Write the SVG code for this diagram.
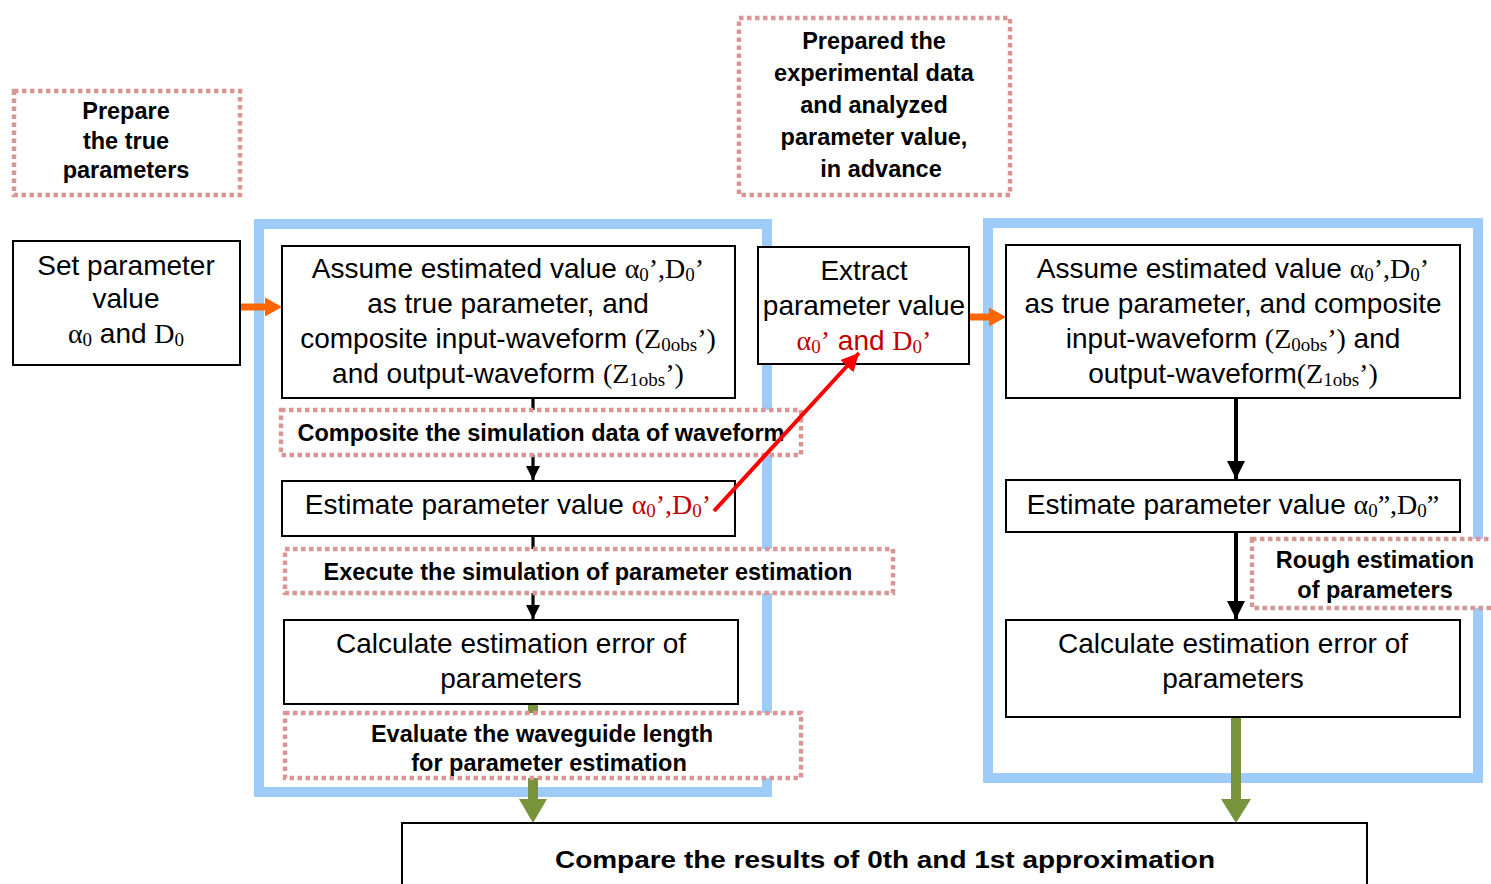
<svg xmlns="http://www.w3.org/2000/svg" width="1491" height="884" viewBox="0 0 1491 884">
  <style>
    .frame { fill: none; stroke: #9DCBFA; stroke-width: 10; }
    .box { fill: #FFFFFF; stroke: #000000; stroke-width: 2; }
    .note { fill: #FFFFFF; stroke: #D99694; stroke-width: 4.5; stroke-dasharray: 4.5 3.5; }
    .t { font-family: "Liberation Sans", Arial, sans-serif; font-size: 28px; fill: #000000; text-anchor: middle; }
    .b { font-family: "Liberation Sans", Arial, sans-serif; font-weight: bold; font-size: 23.5px; fill: #000000; text-anchor: middle; }
    .m { font-family: "Liberation Serif", "Times New Roman", serif; }
    .red { fill: #C00000; }
    .blk { stroke: #000000; fill: none; }
    .grn { stroke: #77933C; fill: none; stroke-width: 10; }
    .org { stroke: #FF6600; fill: none; stroke-width: 7; }
  </style>
  <defs>
    <marker id="headBlack" viewBox="0 0 10 10" refX="10" refY="5" markerWidth="4.5" markerHeight="4.5" markerUnits="strokeWidth" orient="auto">
      <path d="M0,0 L10,5 L0,10 z" fill="#000000"/>
    </marker>
    <marker id="headRed" viewBox="0 0 10 10" refX="10" refY="5" markerWidth="4.5" markerHeight="4.5" markerUnits="strokeWidth" orient="auto">
      <path d="M0,0 L10,5 L0,10 z" fill="#FF0000"/>
    </marker>
  </defs>

  <!-- simulation frame (0th approximation) and experiment frame (1st approximation) -->
  <g id="frames">
    <rect class="frame" x="259" y="224" width="508" height="568"/>
    <rect class="frame" x="988" y="223" width="490" height="555"/>
  </g>

  <g id="connectors">
    <!-- left column flow -->
    <line class="blk" x1="533" y1="398" x2="533" y2="480" stroke-width="3.2" marker-end="url(#headBlack)"/>
    <line class="blk" x1="533" y1="536" x2="533" y2="619" stroke-width="3.2" marker-end="url(#headBlack)"/>
    <!-- right column flow -->
    <line class="blk" x1="1236" y1="398" x2="1236" y2="479" stroke-width="4" marker-end="url(#headBlack)"/>
    <line class="blk" x1="1236" y1="532" x2="1236" y2="619" stroke-width="4" marker-end="url(#headBlack)"/>
    <!-- results to comparison -->
    <line class="grn" x1="533" y1="704" x2="533" y2="800"/>
    <path d="M519,799 L547,799 L533,823 z" fill="#77933C"/>
    <line class="grn" x1="1236" y1="717" x2="1236" y2="800"/>
    <path d="M1221,799 L1251,799 L1236,823 z" fill="#77933C"/>
    <!-- inputs into frames -->
    <line class="org" x1="240" y1="307" x2="266" y2="307"/>
    <path d="M265,297.5 L282,307 L265,316.5 z" fill="#FF6600"/>
    <line class="org" x1="969" y1="317" x2="990" y2="317"/>
    <path d="M989,307.5 L1006,317 L989,326.5 z" fill="#FF6600"/>
  </g>

  <g id="prepare-true">
    <rect class="note" x="14" y="91" width="226" height="104"/>
    <text class="b" font-size="24" x="126" y="119">Prepare</text>
    <text class="b" font-size="24" x="126" y="149">the true</text>
    <text class="b" font-size="24" x="126" y="178">parameters</text>
  </g>

  <g id="set-parameter">
    <rect class="box" x="13" y="241" width="227" height="124"/>
    <text class="t" x="126" y="275">Set parameter</text>
    <text class="t" x="126" y="308">value</text>
    <text class="t" x="126" y="343"><tspan class="m">α<tspan font-size="19" dy="3">0</tspan></tspan><tspan dy="-3"> and </tspan><tspan class="m">D<tspan font-size="19" dy="3">0</tspan></tspan></text>
  </g>

  <g id="assume-sim">
    <rect class="box" x="282" y="246" width="453" height="152"/>
    <text class="t" x="508" y="278">Assume estimated value <tspan class="m">α<tspan font-size="19" dy="3">0</tspan><tspan dy="-3">’,D</tspan><tspan font-size="19" dy="3">0</tspan><tspan dy="-3">’</tspan></tspan></text>
    <text class="t" x="508" y="313">as true parameter, and</text>
    <text class="t" x="508" y="348">composite input-waveform <tspan class="m">(Z<tspan font-size="19" dy="3">0obs</tspan><tspan dy="-3">’)</tspan></tspan></text>
    <text class="t" x="508" y="383">and output-waveform <tspan class="m">(Z<tspan font-size="19" dy="3">1obs</tspan><tspan dy="-3">’)</tspan></tspan></text>
  </g>

  <g id="composite-note">
    <rect class="note" x="281" y="410" width="520" height="45"/>
    <text class="b" x="541" y="441">Composite the simulation data of waveform</text>
  </g>

  <g id="estimate-sim">
    <rect class="box" x="282" y="481" width="453" height="55"/>
    <text class="t" x="508" y="514">Estimate parameter value <tspan class="m red">α<tspan font-size="19" dy="3">0</tspan><tspan dy="-3">’,D</tspan><tspan font-size="19" dy="3">0</tspan><tspan dy="-3">’</tspan></tspan></text>
  </g>

  <g id="execute-note">
    <rect class="note" x="285" y="549" width="608" height="44"/>
    <text class="b" x="588" y="580">Execute the simulation of parameter estimation</text>
  </g>

  <g id="error-sim">
    <rect class="box" x="284" y="620" width="454" height="84"/>
    <text class="t" x="511" y="653">Calculate estimation error of</text>
    <text class="t" x="511" y="688">parameters</text>
  </g>

  <g id="evaluate-note">
    <rect class="note" x="285" y="713" width="516" height="65"/>
    <text class="b" x="542" y="742">Evaluate the waveguide length</text>
    <text class="b" x="549" y="771">for parameter estimation</text>
  </g>

  <g id="prepared-experiment">
    <rect class="note" x="739" y="18" width="271" height="177"/>
    <text class="b" font-size="24" x="874" y="49">Prepared the</text>
    <text class="b" font-size="24" x="874" y="81">experimental data</text>
    <text class="b" font-size="24" x="874" y="113">and analyzed</text>
    <text class="b" font-size="24" x="874" y="145">parameter value,</text>
    <text class="b" font-size="24" x="881" y="177">in advance</text>
  </g>

  <g id="extract">
    <rect class="box" x="758" y="247" width="211" height="117"/>
    <text class="t" x="864" y="280">Extract</text>
    <text class="t" x="864" y="315">parameter value</text>
    <text class="t red" x="864" y="350"><tspan class="m">α<tspan font-size="19" dy="3">0</tspan><tspan dy="-3">’</tspan></tspan> and <tspan class="m">D<tspan font-size="19" dy="3">0</tspan><tspan dy="-3">’</tspan></tspan></text>
  </g>

  <g id="assume-exp">
    <rect class="box" x="1006" y="245" width="454" height="153"/>
    <text class="t" x="1233" y="278">Assume estimated value <tspan class="m">α<tspan font-size="19" dy="3">0</tspan><tspan dy="-3">’,D</tspan><tspan font-size="19" dy="3">0</tspan><tspan dy="-3">’</tspan></tspan></text>
    <text class="t" x="1233" y="313">as true parameter, and composite</text>
    <text class="t" x="1233" y="348">input-waveform <tspan class="m">(Z<tspan font-size="19" dy="3">0obs</tspan><tspan dy="-3">’)</tspan></tspan> and</text>
    <text class="t" x="1233" y="383">output-waveform<tspan class="m">(Z<tspan font-size="19" dy="3">1obs</tspan><tspan dy="-3">’)</tspan></tspan></text>
  </g>

  <g id="estimate-exp">
    <rect class="box" x="1006" y="480" width="454" height="52"/>
    <text class="t" x="1233" y="514">Estimate parameter value <tspan class="m">α<tspan font-size="19" dy="3">0</tspan><tspan dy="-3">”,D</tspan><tspan font-size="19" dy="3">0</tspan><tspan dy="-3">”</tspan></tspan></text>
  </g>

  <g id="rough-note">
    <rect class="note" x="1252" y="539" width="245" height="69"/>
    <text class="b" x="1375" y="568">Rough estimation</text>
    <text class="b" x="1375" y="598">of parameters</text>
  </g>

  <g id="error-exp">
    <rect class="box" x="1006" y="620" width="454" height="97"/>
    <text class="t" x="1233" y="653">Calculate estimation error of</text>
    <text class="t" x="1233" y="688">parameters</text>
  </g>

  <g id="compare">
    <rect class="box" x="402" y="823" width="965" height="70"/>
    <text class="b" font-size="31" x="885" y="868" textLength="660" lengthAdjust="spacingAndGlyphs">Compare the results of 0th and 1st approximation</text>
  </g>

  <!-- hand-over of the estimated values, drawn above the notes -->
  <g id="connector-extract">
    <line x1="714" y1="511" x2="859" y2="353" stroke="#FF0000" stroke-width="4" marker-end="url(#headRed)"/>
  </g>
</svg>
